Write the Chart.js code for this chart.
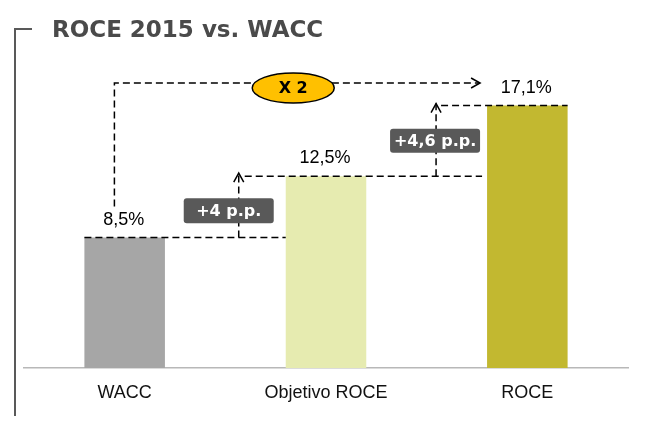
<!DOCTYPE html>
<html>
<head>
<meta charset="utf-8">
<script src="https://cdn.jsdelivr.net/npm/chart.js@4"></script>
<style>
  html, body { margin: 0; padding: 0; background: #ffffff; }
  #wrap { width: 651px; height: 421px; position: relative; }
</style>
</head>
<body>
<div id="wrap"><canvas id="c" width="651" height="421"></canvas></div>
<script>
const titleText = 'ROCE 2015 vs. WACC';
const categories = ['WACC', 'Objetivo ROCE', 'ROCE'];
const values = [8.5, 12.5, 17.1];
const valueLabels = ['8,5%', '12,5%', '17,1%'];
const deltaLabels = ['+4 p.p.', '+4,6 p.p.'];
const multiplierLabel = 'X 2';
const barColors = ['#a6a6a6', '#e6ebb0', '#c2b830'];

function dashed(ctx, pts) {
  ctx.save();
  ctx.strokeStyle = '#000';
  ctx.lineWidth = 1.5;
  ctx.setLineDash([7, 4]);
  ctx.beginPath();
  ctx.moveTo(pts[0][0], pts[0][1]);
  for (let i = 1; i < pts.length; i++) ctx.lineTo(pts[i][0], pts[i][1]);
  ctx.stroke();
  ctx.restore();
}
function chevron(ctx, x, y, dir) {
  ctx.save();
  ctx.strokeStyle = '#000';
  ctx.lineWidth = 1.5;
  ctx.setLineDash([]);
  ctx.beginPath();
  if (dir === 'up') {
    ctx.moveTo(x - 5, y + 9); ctx.lineTo(x, y); ctx.lineTo(x + 5, y + 9);
  } else {
    ctx.moveTo(x - 9, y - 5); ctx.lineTo(x, y); ctx.lineTo(x - 9, y + 5);
  }
  ctx.stroke();
  ctx.restore();
}
function roundBox(ctx, cx, cy, w, h, text) {
  ctx.save();
  const x = cx - w / 2, y = cy - h / 2, r = 3;
  ctx.fillStyle = '#595959';
  ctx.beginPath();
  ctx.moveTo(x + r, y);
  ctx.arcTo(x + w, y, x + w, y + h, r);
  ctx.arcTo(x + w, y + h, x, y + h, r);
  ctx.arcTo(x, y + h, x, y, r);
  ctx.arcTo(x, y, x + w, y, r);
  ctx.closePath();
  ctx.fill();
  ctx.fillStyle = '#ffffff';
  ctx.font = 'bold 16px "DejaVu Sans"';
  ctx.textAlign = 'center';
  ctx.textBaseline = 'middle';
  ctx.fillText(text, cx, cy + 1);
  ctx.restore();
}

const annotations = {
  id: 'annotations',
  beforeDraw(chart) {
    const ctx = chart.ctx;
    ctx.save();
    // bracket
    ctx.strokeStyle = '#595959';
    ctx.lineWidth = 2;
    ctx.beginPath();
    ctx.moveTo(32, 29); ctx.lineTo(15, 29); ctx.lineTo(15, 416);
    ctx.stroke();
    // title
    ctx.fillStyle = '#4a4a4a';
    ctx.font = 'bold 23px "DejaVu Sans"';
    ctx.textAlign = 'left';
    ctx.textBaseline = 'alphabetic';
    ctx.fillText(titleText, 52, 37);
    ctx.restore();
  },
  afterDatasetsDraw(chart) {
    const ctx = chart.ctx;
    const meta = chart.getDatasetMeta(0);
    const ys = chart.scales.y;
    const bars = meta.data.map(b => ({ l: b.x - b.width / 2, r: b.x + b.width / 2, c: b.x, t: b.y }));
    // value labels
    ctx.save();
    ctx.fillStyle = '#000';
    ctx.font = '18px "Liberation Sans"';
    ctx.textAlign = 'center';
    ctx.textBaseline = 'alphabetic';
    bars.forEach((b, i) => ctx.fillText(valueLabels[i], b.c - 1, b.t - 13));
    ctx.restore();

    const y0 = ys.getPixelForValue(values[0]);
    const y1 = ys.getPixelForValue(values[1]);
    const y2 = ys.getPixelForValue(values[2]);

    // step 1: WACC -> Objetivo
    dashed(ctx, [[bars[0].l, y0], [bars[1].l, y0]]);
    const ax1 = bars[1].l - 47;
    dashed(ctx, [[ax1, y0], [ax1, y1 - 3]]);
    chevron(ctx, ax1, y1 - 3, 'up');
    dashed(ctx, [[ax1 + 6, y1], [bars[2].l - 5, y1]]);
    roundBox(ctx, ax1 - 10, (y0 + y1) / 2 + 4, 90, 25, deltaLabels[0]);

    // step 2: Objetivo -> ROCE
    const ax2 = bars[2].l - 51;
    dashed(ctx, [[ax2, y1], [ax2, y2 - 2]]);
    chevron(ctx, ax2, y2 - 2, 'up');
    dashed(ctx, [[ax2 + 5, y2], [bars[2].r, y2]]);
    roundBox(ctx, ax2 - 1, (y1 + y2) / 2, 90, 24, deltaLabels[1]);

    // big x2 arrow
    const bx = bars[0].l + 30;
    const topY = 83;
    const endX = bars[2].l - 7;
    dashed(ctx, [[bx, y0 - 31], [bx, topY], [endX, topY]]);
    chevron(ctx, endX, topY, 'right');

    // ellipse
    const ex = (bx + endX) / 2 - 4, ey = topY + 5;
    ctx.save();
    ctx.beginPath();
    ctx.ellipse(ex, ey, 41, 15, 0, 0, Math.PI * 2);
    ctx.fillStyle = '#ffc000';
    ctx.fill();
    ctx.lineWidth = 1.5;
    ctx.strokeStyle = '#000';
    ctx.stroke();
    ctx.fillStyle = '#000';
    ctx.font = 'bold 16px "DejaVu Sans"';
    ctx.textAlign = 'center';
    ctx.textBaseline = 'middle';
    ctx.fillText(multiplierLabel, ex, ey + 1);
    ctx.restore();
  }
};

new Chart(document.getElementById('c'), {
  type: 'bar',
  data: {
    labels: categories,
    datasets: [{
      data: values,
      backgroundColor: barColors,
      borderWidth: 0,
      categoryPercentage: 1,
      barPercentage: 0.4
    }]
  },
  options: {
    responsive: false,
    animation: false,
    devicePixelRatio: 1,
    layout: { padding: { left: 24, right: 23, top: 61, bottom: 0 } },
    plugins: { legend: { display: false }, tooltip: { enabled: false }, title: { display: false } },
    scales: {
      x: {
        grid: { display: false, drawTicks: false },
        border: { display: true, color: '#b8b8b8', width: 1.5 },
        ticks: { color: '#111', padding: 14, font: { family: '"Liberation Sans"', size: 18 } },
        afterFit: (s) => { s.height = 53; }
      },
      y: { display: false, min: 0, max: 20 }
    }
  },
  plugins: [annotations]
});
</script>
</body>
</html>
